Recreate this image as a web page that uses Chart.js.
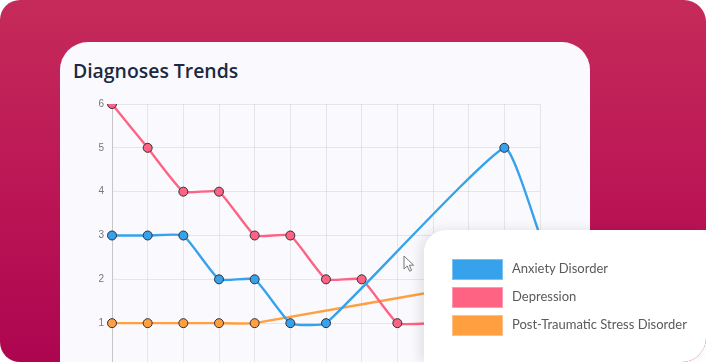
<!DOCTYPE html>
<html>
<head>
<meta charset="utf-8">
<script src="https://cdn.jsdelivr.net/npm/chart.js@4.4.1/dist/chart.umd.min.js"></script>
<style>
  html, body { margin: 0; padding: 0; width: 706px; height: 362px; overflow: hidden; background: #ffffff; }
  #bg { position: absolute; left: 0; top: 0; width: 706px; height: 362px; border-radius: 20px 22px 24px 20px;
        background: linear-gradient(to bottom, #c52b5a 0%, #bb1555 55%, #ad0550 100%); }
  #card { position: absolute; left: 60px; top: 42px; width: 530px; height: 340px; background: #fafafe;
          border-radius: 28px 28px 0 0; }
  #title { position: absolute; left: 73px; top: 61px; font-family: "Open Sans", sans-serif; font-weight: 600;
           font-size: 19.4px; line-height: 20px; color: #1d2940; white-space: nowrap; }
  #wrap { position: absolute; left: 60px; top: 90px; width: 500px; height: 307px; }
  #legend { position: absolute; left: 424px; top: 230px; width: 282px; height: 132px; background: #ffffff;
            border-radius: 22px 0 24px 0; box-shadow: -4px 0 12px rgba(0,0,0,0.10); }
  .item { position: absolute; left: 28px; height: 21px; }
  .sw { position: absolute; left: 0; top: 0; width: 51px; height: 21px; box-sizing: border-box; }
  .lt { position: absolute; left: 60px; top: -1px; line-height: 21px; font-family: "Lato", sans-serif; font-size: 13px;
        color: #5a5a5a; white-space: nowrap; }
  #cursor { position: absolute; left: 403px; top: 255px; }
</style>
</head>
<body>
<div id="bg"></div>
<div id="card"></div>
<div id="title">Diagnoses Trends</div>
<div id="wrap"><canvas id="c"></canvas></div>
<svg id="cursor" width="14" height="18" viewBox="0 0 14 18">
  <path d="M1,1 L1,14 L4.2,11 L6.6,16.2 L8.6,15.3 L6.3,10.2 L10.6,10.2 Z" fill="#ffffff" stroke="#777" stroke-width="1" stroke-linejoin="round"/>
</svg>
<div id="legend"></div>
<script>
const categories = ["W1","W2","W3","W4","W5","W6","W7","W8","W9","W10","W11","W12","W13"];
const seriesNames = ["Anxiety Disorder", "Depression", "Post-Traumatic Stress Disorder"];
const anxiety    = [3, 3, 3, 2, 2, 1, 1, null, null, null, null, 5, 3];
const depression = [6, 5, 4, 4, 3, 3, 2, 2, 1, 1, 1, 1, 1];
const ptsd       = [1, 1, 1, 1, 1, null, null, null, null, null, null, 2, 2];
const yTicks     = [0, 1, 2, 3, 4, 5, 6];
const colors     = ["#36a2eb", "#ff6384", "#ff9f40"];

const values = [anxiety, depression, ptsd];
const datasets = values.map((v, i) => ({
  label: seriesNames[i],
  data: v,
  borderColor: colors[i],
  backgroundColor: colors[i],
  pointBackgroundColor: colors[i],
  pointBorderColor: "#2f2f3a",
  pointBorderWidth: 1,
  pointRadius: 4.5,
  borderWidth: 2.4,
  tension: 0.13,
  spanGaps: true,
  fill: false
}));

new Chart(document.getElementById("c"), {
  type: "line",
  data: { labels: categories, datasets: datasets },
  options: {
    responsive: true,
    maintainAspectRatio: false,
    animation: false,
    layout: { padding: { top: 13, right: 20, bottom: 0, left: 0 } },
    plugins: { legend: { display: false }, tooltip: { enabled: false } },
    scales: {
      x: {
        grid: { color: "rgba(0,0,0,0.08)", drawTicks: false },
        border: { color: "rgba(0,0,0,0.14)" },
        ticks: { color: "#777", font: { size: 10 }, padding: 8 },
        afterFit: s => { s.height = 30; }
      },
      y: {
        min: 0, max: 6,
        afterBuildTicks: s => { s.ticks = yTicks.map(v => ({ value: v })); },
        grid: { color: "rgba(0,0,0,0.08)", drawTicks: false },
        border: { color: "rgba(0,0,0,0.14)" },
        ticks: { color: "#777", font: { size: 10 }, padding: 8 },
        afterFit: s => { s.width = 52; }
      }
    }
  }
});

const lg = document.getElementById("legend");
seriesNames.forEach((n, i) => {
  const it = document.createElement("div");
  it.className = "item";
  it.style.top = (29 + i * 28) + "px";
  const sw = document.createElement("div");
  sw.className = "sw";
  sw.style.background = colors[i];
  sw.style.border = "1px solid rgba(255,255,255,0.35)";
  const t = document.createElement("div");
  t.className = "lt";
  t.textContent = n;
  it.appendChild(sw); it.appendChild(t);
  lg.appendChild(it);
});
</script>
</body>
</html>
